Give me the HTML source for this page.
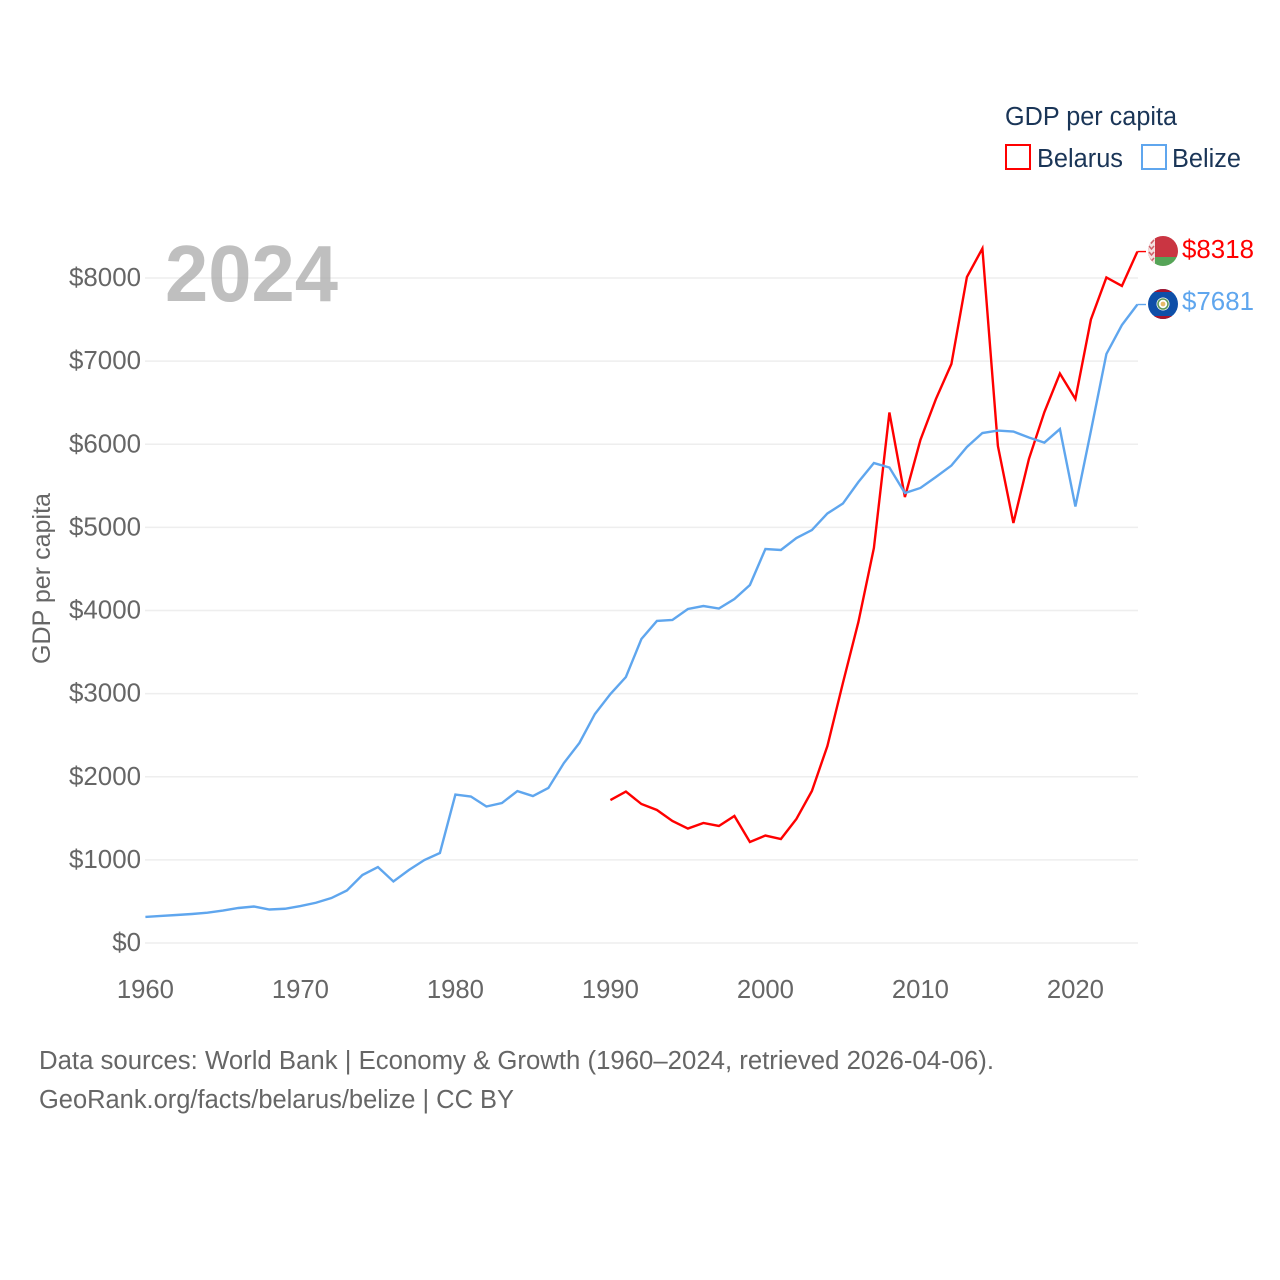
<!DOCTYPE html>
<html lang="en">
<head>
<meta charset="utf-8">
<title>GDP per capita: Belarus and Belize</title>
<style>
html,body{margin:0;padding:0;background:#fff;}
svg{display:block;font-family:"Liberation Sans",sans-serif;}
</style>
</head>
<body>
<svg id="chart" xmlns="http://www.w3.org/2000/svg" width="1280" height="1280" viewBox="0 0 1280 1280">
  <rect x="0" y="0" width="1280" height="1280" fill="#ffffff"/>
  <g id="grid"></g>
  <g id="yticks"></g>
  <g id="xticks"></g>
  <text x="165" y="301" font-size="80" font-weight="700" fill="#a6a6a6" fill-opacity="0.72" textLength="173" lengthAdjust="spacingAndGlyphs">2024</text>
  <text transform="translate(50,664) rotate(-90)" font-size="25" fill="#666666" textLength="171" lengthAdjust="spacingAndGlyphs">GDP per capita</text>
  <g id="series"></g>

  <g>
    <text x="1005" y="125" font-size="25.5" fill="#1a3557" textLength="172" lengthAdjust="spacingAndGlyphs">GDP per capita</text>
    <g>
      <rect x="1006" y="145" width="24" height="24" fill="#ffffff" stroke="#ff0000" stroke-width="2"/>
      <text x="1037" y="167" font-size="25.5" fill="#1a3557" textLength="86" lengthAdjust="spacingAndGlyphs">Belarus</text>
    </g>
    <g>
      <rect x="1142" y="145" width="24" height="24" fill="#ffffff" stroke="#5fa6ee" stroke-width="2"/>
      <text x="1172" y="167" font-size="25.5" fill="#1a3557" textLength="69" lengthAdjust="spacingAndGlyphs">Belize</text>
    </g>
  </g>

  <defs>
    <clipPath id="clip-by"><circle cx="1163" cy="251" r="15"/></clipPath>
    <clipPath id="clip-bz"><circle cx="1163" cy="304" r="15"/></clipPath>
  </defs>
  <g id="flag-belarus" clip-path="url(#clip-by)">
    <rect x="1148" y="236" width="30" height="21" fill="#ca3542"/>
    <rect x="1148" y="257" width="30" height="9" fill="#55a457"/>
    <rect x="1148" y="236" width="7" height="30" fill="#f3e0e0"/>
    <path d="M1149 240l2.5 3 2.5-3M1149 246l2.5 3 2.5-3M1149 252l2.5 3 2.5-3M1149 258l2.5 3 2.5-3" fill="none" stroke="#d0606a" stroke-width="1.5"/>
  </g>
  <g id="flag-belize" clip-path="url(#clip-bz)">
    <rect x="1148" y="289" width="30" height="30" fill="#0f4fa8"/>
    <rect x="1148" y="289" width="30" height="3" fill="#a8142c"/>
    <rect x="1148" y="316" width="30" height="3" fill="#a8142c"/>
    <circle cx="1163" cy="304" r="6.5" fill="#ffffff"/>
    <circle cx="1163" cy="304" r="5" fill="none" stroke="#5f9a5a" stroke-width="1.6"/>
    <circle cx="1163" cy="304" r="2.4" fill="#e7b96a"/>
  </g>
  <text id="end-belarus" x="1182" y="258" font-size="25.5" fill="#ff0000" textLength="72" lengthAdjust="spacingAndGlyphs"></text>
  <text id="end-belize" x="1182" y="310" font-size="25.5" fill="#5fa6ee" textLength="72" lengthAdjust="spacingAndGlyphs"></text>

  <text x="39" y="1069" font-size="25.5" fill="#666666" textLength="955" lengthAdjust="spacingAndGlyphs">Data sources: World Bank | Economy &amp; Growth (1960–2024, retrieved 2026-04-06).</text>
  <text x="39" y="1108" font-size="25.5" fill="#666666" textLength="475" lengthAdjust="spacingAndGlyphs">GeoRank.org/facts/belarus/belize | CC BY</text>
</svg>
<script>
const yTickValues = [0, 1000, 2000, 3000, 4000, 5000, 6000, 7000, 8000];
const xTickYears = [1960, 1970, 1980, 1990, 2000, 2010, 2020];
const belizeStartYear = 1960;
const belizeValues = [
  313, 325, 337, 349, 365, 390, 421, 439, 403, 412,
  445, 484, 541, 632, 818, 914, 740, 878, 998, 1083,
  1786, 1762, 1642, 1684, 1828, 1768, 1865, 2165, 2406, 2755,
  2995, 3200, 3657, 3874, 3886, 4018, 4054, 4024, 4138, 4307,
  4740, 4728, 4872, 4968, 5167, 5287, 5546, 5774, 5720, 5413,
  5474, 5606, 5744, 5967, 6135, 6165, 6153, 6081, 6020, 6183,
  5251, 6160, 7086, 7434, 7681
];
const belarusStartYear = 1990;
const belarusValues = [
  1720, 1822, 1672, 1600, 1468, 1377, 1444, 1408, 1528, 1215,
  1293, 1251, 1492, 1829, 2370, 3128, 3862, 4752, 6382, 5365,
  6051, 6544, 6965, 8012, 8355, 5979, 5053, 5822, 6388, 6851,
  6544, 7501, 8006, 7904, 8318
];

const SVG_NS = 'http://www.w3.org/2000/svg';
function xScale(year) { return 145.4 + (year - 1960) * 15.5; }
function yScale(value) { return 943 - value * 0.083125; }
function money(value) { return '$' + value; }

const gridGroup = document.getElementById('grid');
const yTickGroup = document.getElementById('yticks');
const xTickGroup = document.getElementById('xticks');
const seriesGroup = document.getElementById('series');

yTickValues.forEach(function (value) {
  const line = document.createElementNS(SVG_NS, 'line');
  
  
  line.setAttribute('x1', 145);
  line.setAttribute('x2', 1138);
  line.setAttribute('y1', yScale(value));
  line.setAttribute('y2', yScale(value));
  line.setAttribute('stroke', '#eeeeee');
  line.setAttribute('stroke-width', 1.4);
  gridGroup.appendChild(line);

  const label = document.createElementNS(SVG_NS, 'text');
  
  
  label.setAttribute('x', 141);
  label.setAttribute('y', yScale(value) + 8);
  label.setAttribute('text-anchor', 'end');
  label.setAttribute('font-size', 25.9);
  label.setAttribute('fill', '#666666');
  label.textContent = money(value);
  yTickGroup.appendChild(label);
});

xTickYears.forEach(function (year) {
  const label = document.createElementNS(SVG_NS, 'text');
  
  
  label.setAttribute('x', xScale(year));
  label.setAttribute('y', 998);
  label.setAttribute('text-anchor', 'middle');
  label.setAttribute('font-size', 25.7);
  label.setAttribute('fill', '#666666');
  label.textContent = String(year);
  xTickGroup.appendChild(label);
});

function seriesPoints(startYear, values) {
  return values.map(function (value, i) {
    return xScale(startYear + i).toFixed(2) + ',' + yScale(value).toFixed(2);
  }).join(' ');
}

const belarusLine = document.createElementNS(SVG_NS, 'polyline');


belarusLine.setAttribute('points', seriesPoints(belarusStartYear, belarusValues));
belarusLine.setAttribute('fill', 'none');
belarusLine.setAttribute('stroke', '#ff0000');
belarusLine.setAttribute('stroke-width', 2.4);
seriesGroup.appendChild(belarusLine);

const belizeLine = document.createElementNS(SVG_NS, 'polyline');


belizeLine.setAttribute('points', seriesPoints(belizeStartYear, belizeValues));
belizeLine.setAttribute('fill', 'none');
belizeLine.setAttribute('stroke', '#5fa6ee');
belizeLine.setAttribute('stroke-width', 2.4);
seriesGroup.appendChild(belizeLine);

const belarusStub = document.createElementNS(SVG_NS, 'line');


belarusStub.setAttribute('x1', xScale(2024));
belarusStub.setAttribute('x2', 1146);
belarusStub.setAttribute('y1', yScale(belarusValues[belarusValues.length - 1]));
belarusStub.setAttribute('y2', yScale(belarusValues[belarusValues.length - 1]));
belarusStub.setAttribute('stroke', '#ff0000');
belarusStub.setAttribute('stroke-width', 1.4);
seriesGroup.appendChild(belarusStub);

const belizeStub = document.createElementNS(SVG_NS, 'line');


belizeStub.setAttribute('x1', xScale(2024));
belizeStub.setAttribute('x2', 1146);
belizeStub.setAttribute('y1', yScale(belizeValues[belizeValues.length - 1]));
belizeStub.setAttribute('y2', yScale(belizeValues[belizeValues.length - 1]));
belizeStub.setAttribute('stroke', '#5fa6ee');
belizeStub.setAttribute('stroke-width', 1.4);
seriesGroup.appendChild(belizeStub);

document.getElementById('end-belarus').textContent = money(belarusValues[belarusValues.length - 1]);
document.getElementById('end-belize').textContent = money(belizeValues[belizeValues.length - 1]);
</script>
</body>
</html>
